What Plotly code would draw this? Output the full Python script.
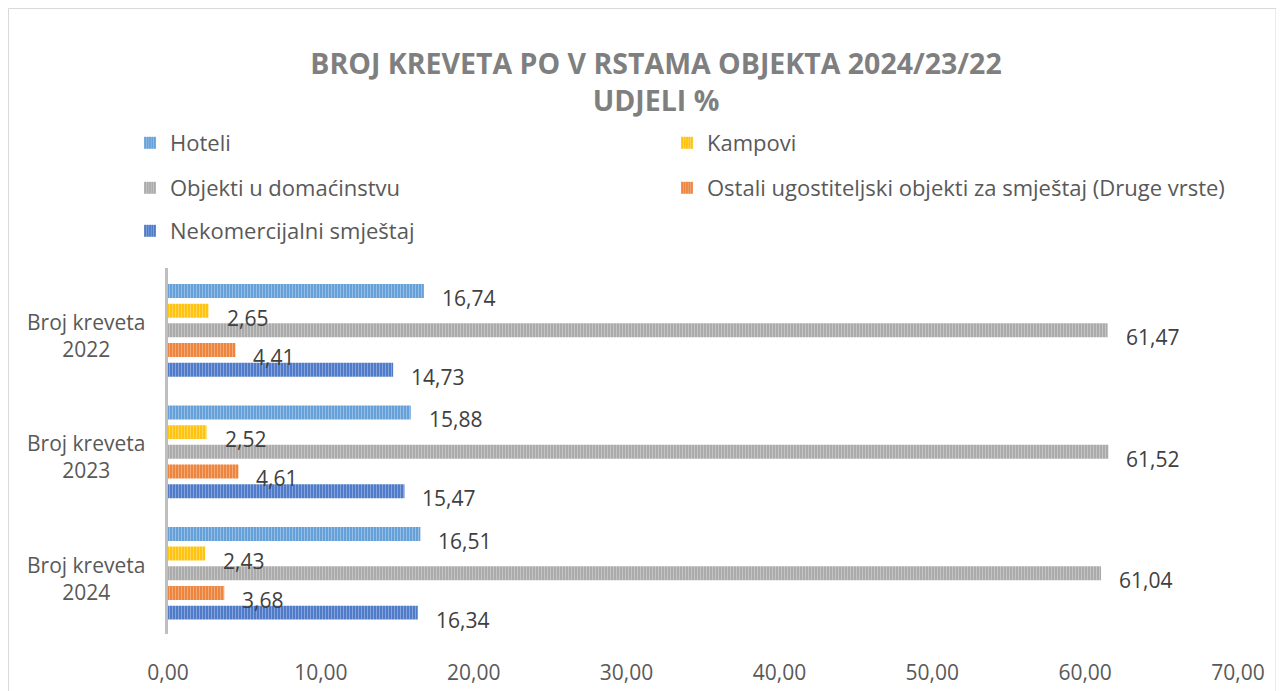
import plotly.graph_objects as go

categories = ["Broj kreveta 2022", "Broj kreveta 2023", "Broj kreveta 2024"]
series_names = ["Hoteli", "Kampovi", "Objekti u domaćinstvu",
                "Ostali ugostiteljski objekti za smještaj (Druge vrste)",
                "Nekomercijalni smještaj"]
hoteli = [16.74, 15.88, 16.51]
kampovi = [2.65, 2.52, 2.43]
objekti = [61.47, 61.52, 61.04]
ostali = [4.41, 4.61, 3.68]
nekomercijalni = [14.73, 15.47, 16.34]
x_ticks = [0, 10, 20, 30, 40, 50, 60, 70]

values = [hoteli, kampovi, objekti, ostali, nekomercijalni]
colors = ["#5B9BD5", "#FFC000", "#A5A5A5", "#ED7D31", "#4472C4"]

FONT = "Open Sans"
BARGAP = 0.19
N = len(series_names)
slot = (1 - BARGAP) / N

# the page body adds an 8px margin; work in screen px and convert
OFF = 8
W, H = 1284 - OFF, 691 - OFF
L, R, T, B = 168 - OFF, 1238 - OFF, 268 - OFF, 634 - OFF

def px2paper_x(px):
    return (px - OFF - L) / (R - L)

def px2paper_y(py):
    return (B - (py - OFF)) / (B - T)

# legend positions (screen px): legend-left x, row centre y
legend_pos = [(130, 143), (667, 143), (130, 188), (667, 188), (130, 231)]
legend_ids = ["legend", "legend2", "legend3", "legend4", "legend5"]

fig = go.Figure()
for i, (name, vals, col) in enumerate(zip(series_names, values, colors)):
    fig.add_trace(go.Bar(
        y=categories, x=vals, name=name, orientation="h",
        marker=dict(color=col, line=dict(width=0),
                    pattern=dict(shape="|", size=3, solidity=0.45,
                                 fgcolor="white", fgopacity=0.35)),
        legend=legend_ids[i], hoverinfo="x+name",
    ))

annotations = []
for i, vals in enumerate(values):
    for k, v in enumerate(vals):
        annotations.append(dict(
            x=v, y=k + (i - (N - 1) / 2) * slot, xref="x", yref="y",
            text=f"{v:.2f}".replace(".", ","), showarrow=False,
            xanchor="left", yanchor="middle", xshift=16, yshift=-7,
            font=dict(family=FONT, size=21, color="#404040"),
        ))
for k, c in enumerate(categories):
    annotations.append(dict(
        x=0, y=k, xref="x", yref="y", text=c.replace(" 20", "<br>20"),
        showarrow=False, xanchor="center", yanchor="middle", align="center",
        xshift=-82, yshift=-5,
        font=dict(family=FONT, size=21, color="#595959"),
    ))

legend_common = dict(orientation="h", xref="container", yref="container",
                     xanchor="left", yanchor="middle", bgcolor="rgba(0,0,0,0)",
                     font=dict(family=FONT, size=22, color="#595959"))
legends = {}
for lid, (lx, ly) in zip(legend_ids, legend_pos):
    legends[lid] = dict(x=(lx - OFF) / W, y=1 - (ly - OFF) / H, **legend_common)

fig.update_layout(
    width=W, height=H,
    margin=dict(l=L, r=W - R, t=T, b=H - B, autoexpand=False),
    paper_bgcolor="white", plot_bgcolor="white",
    barmode="group", bargap=BARGAP, bargroupgap=0.29,
    separators=",.",
    title=dict(text="BROJ KREVETA PO V RSTAMA OBJEKTA 2024/23/22<br>UDJELI %",
               x=(656 - OFF) / W, xref="container", xanchor="center",
               y=1 - (74 - OFF) / H, yref="container", yanchor="middle",
               font=dict(family=FONT, size=28.5, color="#7F7F7F", weight="bold")),
    xaxis=dict(range=[0, 70], tickvals=x_ticks, tickformat=".2f",
               showgrid=False, zeroline=False, showline=False,
               ticks="", ticklabelstandoff=24, automargin=False,
               tickfont=dict(family=FONT, size=21, color="#595959")),
    yaxis=dict(autorange="reversed", showticklabels=False, showgrid=False,
               zeroline=False, showline=True, linecolor="#BFBFBF", linewidth=3,
               ticks="", automargin=False),
    annotations=annotations,
    shapes=[dict(type="rect", xref="paper", yref="paper",
                 x0=px2paper_x(8.5), x1=px2paper_x(1276),
                 y0=px2paper_y(720), y1=px2paper_y(8.5),
                 line=dict(color="#D9D9D9", width=1), fillcolor="rgba(0,0,0,0)",
                 layer="below")],
    showlegend=True,
    **legends,
)

fig.write_html("out.html")
